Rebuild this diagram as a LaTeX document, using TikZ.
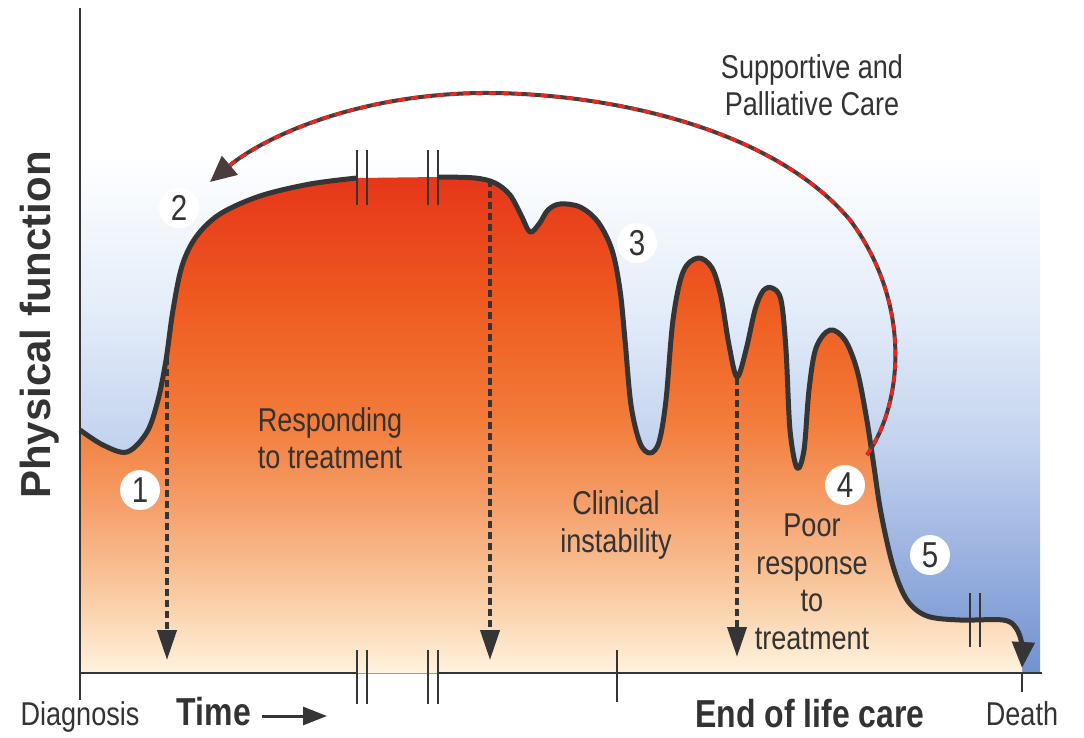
\documentclass[tikz,border=0pt]{standalone}
\usepackage{fontspec}
\setmainfont{Liberation Sans}[FakeStretch=0.82]
\newfontfamily\axisfont{Liberation Sans}
\usetikzlibrary{positioning, arrows.meta}

\definecolor{linegray}{HTML}{353535}
\definecolor{txtgray}{HTML}{333333}
\definecolor{fillred}{HTML}{E6361A}
\definecolor{fillred2}{HTML}{EE5A20}
\definecolor{fillorange}{HTML}{F27A38}
\definecolor{fillorange2}{HTML}{F59C66}
\definecolor{fillpeach}{HTML}{F9CDA6}
\definecolor{fillpale}{HTML}{FFF3DE}
\definecolor{bgtop}{HTML}{E4EDF9}
\definecolor{bgmid}{HTML}{C4D3EF}
\definecolor{bgbot}{HTML}{7191D0}
\definecolor{pcdark}{HTML}{4A3C3C}
\definecolor{pcred}{HTML}{E8281E}

\pgfdeclareverticalshading{bgshade}{100bp}{color(0bp)=(bgbot); color(25bp)=(bgbot); color(42.5bp)=(bgmid); color(52.5bp)=(bgtop); color(64bp)=(white); color(100bp)=(white)}
\pgfdeclareverticalshading{undershade}{100bp}{color(0bp)=(fillpale); color(25bp)=(fillpale); color(32.5bp)=(fillpeach); color(42.5bp)=(fillorange2); color(51bp)=(fillorange); color(62.5bp)=(fillred2); color(75bp)=(fillred); color(100bp)=(fillred)}

\def\ptsA{(80,430) (103,445) (127,452) (147,432) (158,400) (166,360) (173,310) (182,266) (196,237) (220,214) (260,196) (310,184) (357,178)}
\def\ptsB{(438,177) (475,178) (495,183) (510,195) (521,215) (530,232) (539,224) (548,210) (560,204) (580,207) (598,222) (612,250) (620,290) (625,340) (631,405) (640,443) (650,453) (659,442) (666,400) (673,320) (683,272) (698,258) (712,268) (721,297) (729,345) (737,377) (746,350) (755,310) (763,291) (772,288) (781,300) (786,350) (790,430) (797,468) (804,450) (809,390) (816,348) (830,330) (845,340) (857,370) (866,415) (873,460) (881,513) (893,566) (907,600) (927,616) (960,620) (1003,620) (1016,628) (1022,645) (1022,668)}
\edef\crvA{plot[smooth, tension=0.55] coordinates {\ptsA}}
\edef\crvB{plot[smooth, tension=0.55] coordinates {\ptsB}}
\edef\underarea{(80,673) -- plot[smooth, tension=0.55] coordinates {\ptsA} -- plot[smooth, tension=0.55] coordinates {\ptsB} -- (1022,673) -- cycle}

\begin{document}
\begin{tikzpicture}[
    x=1pt, y=-1pt,
    lbl/.style={text=txtgray, align=center, font=\fontsize{33}{37.5}\selectfont},
    boldlbl/.style={text=txtgray, font=\fontsize{39}{39}\selectfont\bfseries},
    num/.style={circle, fill=white, inner sep=0pt, minimum size=40pt,
      text=txtgray, font=\fontsize{36}{36}\selectfont},
    curve/.style={draw=linegray, line width=5pt, line join=round},
    axis/.style={draw=linegray, line width=2.5pt},
    brk/.style={draw=linegray, line width=2.5pt},
    drop/.style={draw=linegray, line width=4pt, dash pattern=on 7pt off 4pt,
      -{Triangle[length=30pt, width=19pt]}},
    timearr/.style={draw=linegray, line width=3pt, -{Triangle[length=24pt, width=18pt]}},
    pcarr/.style={draw=pcdark, line width=4pt, -{Triangle[length=26pt, width=24pt]},
      postaction={draw=pcred, line width=3.5pt, dash pattern=on 7pt off 6pt, -, shorten >=22pt}}
  ]
  \useasboundingbox (0,0) rectangle (1084,737);
  \shade[shading=bgshade] (80,8) rectangle (1040,673);
  \shade[shading=undershade] \underarea;

  \draw[axis] (80,8) -- (80,700);
  \draw[axis] (80,673) -- (357,673);
  \draw[axis] (438,673) -- (1042,673);
  \draw[axis] (617,650) -- (617,702);
  \draw[axis] (1022,673) -- (1022,692);
  \foreach \bx in {357,367,428,438} {
    \draw[brk] (\bx,150) -- (\bx,205);
    \draw[brk] (\bx,650) -- (\bx,704);
  }

  \draw[curve] \crvA;
  \draw[curve, -{Triangle[length=26pt, width=22pt]}] \crvB;
  \foreach \bx in {970,980}
    \draw[brk] (\bx,593) -- (\bx,647);

  \coordinate (top1) at (167,358);
  \coordinate (bot1) at (167,660);
  \coordinate (top2) at (490,180);
  \coordinate (bot2) at (490,660);
  \coordinate (top3) at (737,378);
  \coordinate (bot3) at (737,657);
  \draw[drop] (top1) -- (bot1);
  \draw[drop] (top2) -- (bot2);
  \draw[drop] (top3) -- (bot3);

  \coordinate (pcstart) at (867,455);
  \coordinate (pcend) at (210,182);
  \draw[pcarr] (pcstart) .. controls (905,400) and (910,300) .. (850,220)
    .. controls (770,125) and (600,92) .. (480,93)
    .. controls (350,95) and (260,140) .. (pcend);

  \node[num] (n1) at (140,490) {1};
  \node[num] (n2) at (179,208) {2};
  \node[num] (n3) at (637,243) {3};
  \node[num] (n4) at (845,485) {4};
  \node[num] (n5) at (930,555) {5};

  \node[lbl] (care) at (812,85) {Supportive and\\Palliative Care};
  \node[lbl] (resp) at (330,438) {Responding\\to treatment};
  \node[lbl] (instab) at (616,525) {Clinical\\instability};
  \node[lbl] (poor) at (812,582) {Poor\\response\\to\\treatment};

  \node[text=txtgray, rotate=90, font=\axisfont\fontsize{42}{42}\selectfont\bfseries]
    (phys) at (40,325) {Physical function};
  \node[lbl, anchor=base] (diag) at (80,725) {Diagnosis};
  \node[boldlbl, anchor=base] (time) at (214,725) {Time};
  \coordinate (timetail) at (262,716);
  \coordinate (timehead) at (327,716);
  \draw[timearr] (timetail) -- (timehead);
  \node[boldlbl, anchor=base] (eol) at (810,727) {End of life care};
  \node[lbl, anchor=base] (death) at (1022,725) {Death};
\end{tikzpicture}
\end{document}
